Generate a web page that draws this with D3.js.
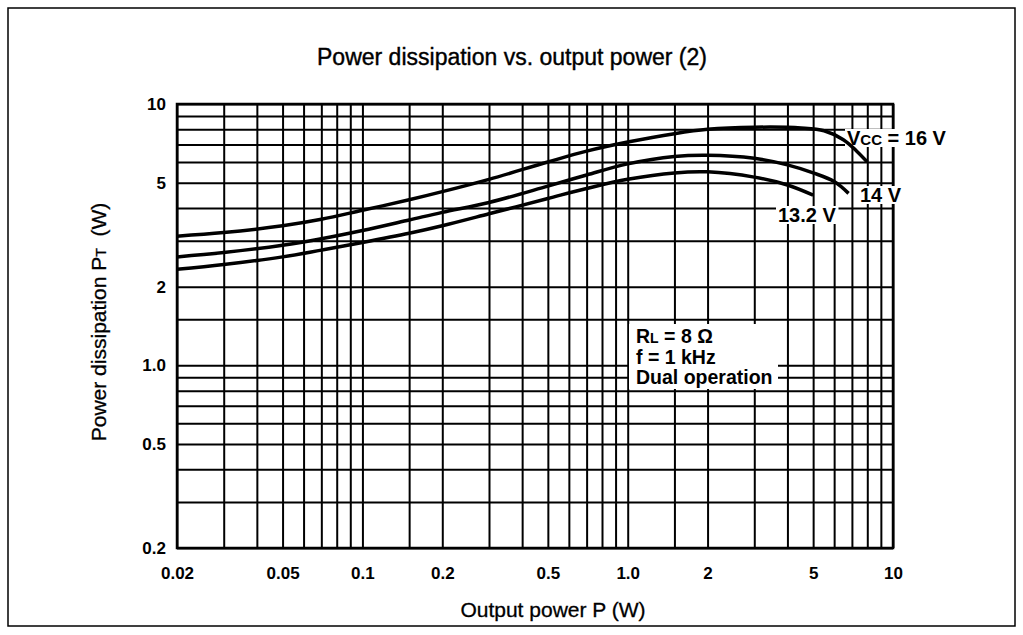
<!DOCTYPE html>
<html>
<head>
<meta charset="utf-8">
<script src="https://cdn.jsdelivr.net/npm/d3@7"></script>
<style>
  body { margin: 0; background: #fff; }
  svg { display: block; font-family: 'Liberation Sans', Arial, sans-serif; }
  .grid line { stroke: #000; stroke-width: 2; }
  .grid .domain { display: none; }
  .ticks .domain { display: none; }
</style>
</head>
<body>
<div id="chart"></div>
<script>
// values
var xTicks = [0.02, 0.05, 0.1, 0.2, 0.5, 1.0, 2, 5, 10];
var xTickLabels = ['0.02', '0.05', '0.1', '0.2', '0.5', '1.0', '2', '5', '10'];
var yTicks = [0.2, 0.5, 1.0, 2, 5, 10];
var yTickLabels = ['0.2', '0.5', '1.0', '2', '5', '10'];

var xGrid = [0.02, 0.03, 0.04, 0.05, 0.06, 0.07, 0.08, 0.09, 0.1, 0.15, 0.2, 0.3, 0.4, 0.5,
             0.6, 0.7, 0.8, 0.9, 1, 1.5, 2, 3, 4, 5, 6, 7, 8, 9, 10];
var yGrid = [0.2, 0.3, 0.4, 0.5, 0.6, 0.7, 0.8, 0.9, 1, 1.5, 2, 3, 4, 5, 6, 7, 8, 9, 10];

var power16 = [0.02, 0.03, 0.05, 0.07, 0.1, 0.15, 0.2, 0.3, 0.5, 0.7, 1.0, 1.5, 2, 3, 4.5, 5.5, 6.5, 7.3, 8];
var diss16 = [3.12, 3.22, 3.42, 3.62, 3.92, 4.3, 4.62, 5.15, 6.0, 6.6, 7.15, 7.7, 8.0, 8.15, 8.1, 7.9, 7.3, 6.6, 6.0];

var power14 = [0.02, 0.03, 0.05, 0.07, 0.1, 0.15, 0.2, 0.3, 0.5, 0.7, 1.0, 1.5, 2, 3, 4, 5, 6, 6.8];
var diss14 = [2.6, 2.7, 2.88, 3.05, 3.28, 3.6, 3.85, 4.2, 4.85, 5.35, 5.9, 6.3, 6.37, 6.2, 5.85, 5.45, 5.05, 4.55];

var power132 = [0.02, 0.03, 0.05, 0.07, 0.1, 0.15, 0.2, 0.3, 0.5, 0.7, 1.0, 1.5, 2, 3, 4, 5];
var diss132 = [2.33, 2.43, 2.6, 2.76, 2.95, 3.2, 3.42, 3.8, 4.35, 4.75, 5.15, 5.45, 5.5, 5.25, 4.9, 4.48];

var width = 1023,
    height = 635,
    plotLeft = 177, plotRight = 893, plotTop = 104, plotBottom = 548;

var svg = d3.select('#chart')
    .append('svg')
    .attr('width', width)
    .attr('height', height);

// outer frame
svg.append('rect')
    .attr('x', 8).attr('y', 8)
    .attr('width', 1007).attr('height', 618)
    .attr('fill', 'none')
    .attr('stroke', '#000')
    .attr('stroke-width', 1.5);

svg.append('text')
    .attr('x', 512).attr('y', 65)
    .attr('text-anchor', 'middle')
    .style('font-size', '23px')
    .style('stroke', '#000').style('stroke-width', 0.4)
    .text('Power dissipation vs. output power (2)');

var x = d3.scaleLog().domain([0.02, 10]).range([plotLeft, plotRight]);
var y = d3.scaleLog().domain([0.2, 10]).range([plotBottom, plotTop]);

// grid
svg.append('g')
    .attr('class', 'grid')
    .attr('transform', 'translate(0,' + plotBottom + ')')
    .call(d3.axisBottom(x).tickValues(xGrid).tickSize(-(plotBottom - plotTop)).tickFormat(''));

svg.append('g')
    .attr('class', 'grid')
    .attr('transform', 'translate(' + plotLeft + ',0)')
    .call(d3.axisLeft(y).tickValues(yGrid).tickSize(-(plotRight - plotLeft)).tickFormat(''));

svg.append('rect')
    .attr('x', plotLeft).attr('y', plotTop)
    .attr('width', plotRight - plotLeft).attr('height', plotBottom - plotTop)
    .attr('fill', 'none')
    .attr('stroke', '#000')
    .attr('stroke-width', 2.5);

// tick labels
svg.append('g')
    .attr('class', 'ticks')
    .attr('transform', 'translate(0,' + plotBottom + ')')
    .call(d3.axisBottom(x).tickValues(xTicks).tickSize(0).tickPadding(19)
        .tickFormat(function(d, i) { return xTickLabels[i]; }))
    .attr('font-size', 17)
    .attr('font-weight', 'bold')
    .attr('font-family', null);

svg.append('g')
    .attr('class', 'ticks')
    .attr('transform', 'translate(' + plotLeft + ',0)')
    .call(d3.axisLeft(y).tickValues(yTicks).tickSize(0).tickPadding(11)
        .tickFormat(function(d, i) { return yTickLabels[i]; }))
    .attr('font-size', 17)
    .attr('font-weight', 'bold')
    .attr('font-family', null);

// axis titles
svg.append('text')
    .attr('x', 553).attr('y', 617)
    .attr('text-anchor', 'middle')
    .style('font-size', '21px')
    .style('stroke', '#000').style('stroke-width', 0.3)
    .text('Output power P (W)');

var yt = svg.append('text')
    .attr('transform', 'translate(106,322) rotate(-90)')
    .attr('text-anchor', 'middle')
    .style('font-size', '21px')
    .style('stroke', '#000').style('stroke-width', 0.3);
yt.append('tspan').text('Power dissipation P');
yt.append('tspan').style('font-size', '14px').text('T');
yt.append('tspan').attr('xml:space', 'preserve').text('  (W)');

// curves
var line = d3.line()
    .x(function(d) { return x(d[0]); })
    .y(function(d) { return y(d[1]); })
    .curve(d3.curveCatmullRom.alpha(0.5));

var series = [
    d3.zip(power16, diss16),
    d3.zip(power14, diss14),
    d3.zip(power132, diss132)
];

// annotations with white backgrounds
function label(xp, yp, parts, size) {
    var g = svg.append('g');
    var bg = g.append('rect').attr('fill', '#fff');
    var t = g.append('text')
        .attr('x', xp).attr('y', yp)
        .style('font-size', size + 'px')
        .style('font-weight', 'bold');
    parts.forEach(function(p) {
        t.append('tspan')
            .style('font-size', (p[1] || size) + 'px')
            .attr('xml:space', 'preserve')
            .text(p[0]);
    });
    var b = t.node().getBBox();
    bg.attr('x', b.x - 2).attr('y', b.y + 2).attr('width', b.width + 4).attr('height', b.height - 4);
    return g;
}

label(847, 145, [['V'], ['CC', 15], [' = 16 V']], 20);
label(860, 202, [['14 V']], 20);
label(778, 222, [['13.2 V']], 20);

svg.selectAll('path.curve')
    .data(series)
    .enter()
    .append('path')
    .attr('class', 'curve')
    .attr('d', line)
    .attr('fill', 'none')
    .attr('stroke', '#000')
    .attr('stroke-width', 3.5);

var box = svg.append('g');
box.append('rect')
    .attr('x', 629).attr('y', 324)
    .attr('width', 149).attr('height', 65)
    .attr('fill', '#fff');
var cond = box.append('text')
    .style('font-size', '19.5px')
    .style('font-weight', 'bold');
var l1 = cond.append('tspan').attr('x', 636).attr('y', 343);
l1.append('tspan').text('R');
l1.append('tspan').style('font-size', '14px').text('L');
l1.append('tspan').attr('xml:space', 'preserve').text(' = 8 \u03a9');
cond.append('tspan').attr('x', 636).attr('y', 364).text('f = 1 kHz');
cond.append('tspan').attr('x', 636).attr('y', 384).text('Dual operation');
</script>
</body>
</html>
